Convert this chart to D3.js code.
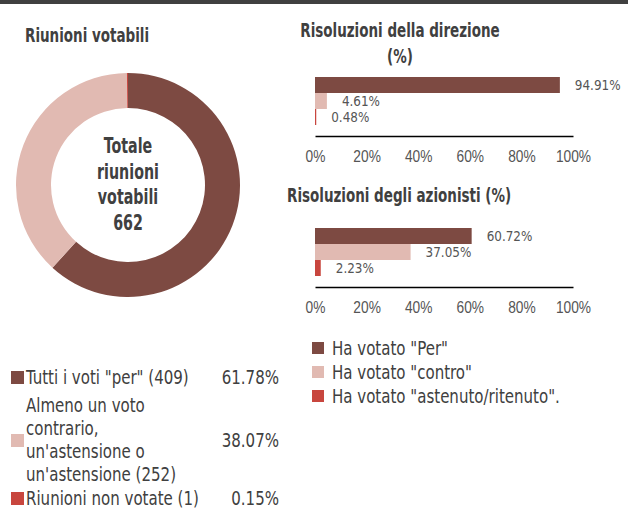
<!DOCTYPE html>
<html><head><meta charset="utf-8">
<script src="https://cdn.jsdelivr.net/npm/d3@7"></script>
<style>
body{margin:0;background:#fff;}
svg{display:block;font-family:"DejaVu Sans Condensed","Liberation Sans Narrow","Roboto",sans-serif;}
</style></head>
<body><svg id="c" width="628" height="520"></svg>
<script>
const donutLabels = [['Tutti i voti "per" (409)'], ['Almeno un voto','contrario,',"un'astensione o","un'astensione (252)"], ['Riunioni non votate (1)']];
const donutValues = [409, 252, 1];
const donutPctLabels = ['61.78%', '38.07%', '0.15%'];
const donutTotal = 662;
const seriesNames = ['Ha votato "Per"', 'Ha votato "contro"', 'Ha votato "astenuto/ritenuto".'];
const mgmtValues = [94.91, 4.61, 0.48];
const shareholderValues = [60.72, 37.05, 2.23];
const tickValues = [0, 20, 40, 60, 80, 100];
const colors = ['#7d4a42', '#e1bab2', '#c8463e'];

const svg = d3.select('#c');
const textCol = '#404040';

// helper: condensed text (horizontal scale around anchor)
function ctext(parent, x, y, str, o) {
  const g = parent.append('g').attr('transform', `translate(${x},${y}) scale(${o.sx||1},1)`);
  return g.append('text').attr('x',0).attr('y',0)
    .attr('dy', o.dy||null)
    .attr('text-anchor', o.anchor||'start')
    .attr('font-size', o.size||17)
    .attr('font-weight', o.bold?'bold':'normal')
    .attr('fill', o.fill||textCol)
    .text(str);
}

// top bar
svg.append('rect').attr('x',0).attr('y',0).attr('width',628).attr('height',4).attr('fill','#404040');

// Donut
ctext(svg, 25, 42, 'Riunioni votabili', {size:20, bold:true, sx:0.75});
const pie = d3.pie().sort(null).value(d=>d)(donutValues);
const arc = d3.arc().innerRadius(77).outerRadius(112);
const dg = svg.append('g').attr('transform','translate(128,185)');
dg.selectAll('path').data(pie).join('path').attr('d',arc).attr('fill',(d,i)=>colors[i]);
const centerLines = ['Totale','riunioni','votabili', String(donutTotal)];
centerLines.forEach((l,i)=>{
  ctext(dg, 0, -32 + i*25.7, l, {size:22, bold:true, sx:0.72, anchor:'middle'});
});

// donut legend
const legRows = [377, 440, 498];
donutLabels.forEach((lines,i)=>{
  const cy = legRows[i];
  svg.append('rect').attr('x',11).attr('y',cy-6).attr('width',13).attr('height',13).attr('fill',colors[i]);
  const n = lines.length;
  lines.forEach((l,j)=>{
    ctext(svg, 26, cy + (j-(n-1)/2)*23, l, {size:19, sx:0.88, dy:'0.35em'});
  });
  ctext(svg, 279, cy, donutPctLabels[i], {size:19, sx:0.88, dy:'0.35em', anchor:'end'});
});

// bar charts
const x = d3.scaleLinear().domain([0,100]).range([315,573]);
function barChart(values, y0, axisY) {
  const y = d3.scaleBand().domain(d3.range(values.length)).range([y0, y0+48]).padding(0);
  const g = svg.append('g');
  g.selectAll('rect').data(values).join('rect')
    .attr('x',x(0)).attr('y',(d,i)=>y(i)).attr('width',d=>x(d)-x(0)).attr('height',y.bandwidth()).attr('fill',(d,i)=>colors[i]);
  values.forEach((d,i)=>{
    ctext(g, x(d)+15, y(i)+y.bandwidth()/2, d.toFixed(2)+'%', {size:14.5, sx:0.92, dy:'0.35em', fill:'#555'});
  });
  const ax = svg.append('g').attr('transform',`translate(0,${axisY})`)
    .call(d3.axisBottom(x).tickValues(tickValues).tickSize(0).tickPadding(15).tickFormat(d=>d+'%'));
  ax.select('.domain').attr('stroke','#000').attr('stroke-width',1.5);
  ax.selectAll('text').attr('font-size',16).attr('fill','#555').attr('font-family','inherit').attr('transform','scale(0.86,1)');
}
ctext(svg, 400, 37, 'Risoluzioni della direzione', {size:20, bold:true, sx:0.75, anchor:'middle'});
ctext(svg, 400, 63, '(%)', {size:20, bold:true, sx:0.75, anchor:'middle'});
barChart(mgmtValues, 77, 136);
ctext(svg, 287, 202, 'Risoluzioni degli azionisti (%)', {size:20, bold:true, sx:0.75});
barChart(shareholderValues, 228, 287);

// bar legend
const bl = [348, 372, 396];
seriesNames.forEach((s,i)=>{
  svg.append('rect').attr('x',312).attr('y',bl[i]-6).attr('width',12).attr('height',12).attr('fill',colors[i]);
  ctext(svg, 332, bl[i], s, {size:19, sx:0.88, dy:'0.35em'});
});
</script></body></html>
